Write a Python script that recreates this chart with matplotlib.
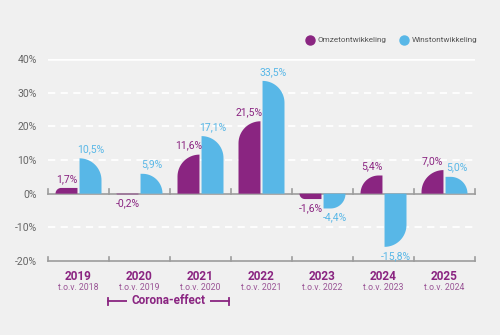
import matplotlib
matplotlib.use("Agg")
import matplotlib.pyplot as plt
from matplotlib.patches import Polygon
from matplotlib import font_manager
import matplotlib.transforms as mtrans
import numpy as np

names = {f.name for f in font_manager.fontManager.ttflist}
COND = "Liberation Sans Narrow" if "Liberation Sans Narrow" in names else "Roboto"
plt.rcParams['font.family'] = [COND, 'DejaVu Sans']

years = ["2019", "2020", "2021", "2022", "2023", "2024", "2025"]
compare = ["t.o.v. 2018", "t.o.v. 2019", "t.o.v. 2020", "t.o.v. 2021",
           "t.o.v. 2022", "t.o.v. 2023", "t.o.v. 2024"]
omzet = [1.7, -0.2, 11.6, 21.5, -1.6, 5.4, 7.0]
winst = [10.5, 5.9, 17.1, 33.5, -4.4, -15.8, 5.0]
yticks = [-20, -10, 0, 10, 20, 30, 40]
series_names = ["Omzetontwikkeling", "Winstontwikkeling"]

PURPLE = "#8A2581"
BLUE = "#58B7E7"
BG = "#F0F0F0"
GRAY = "#9C9C9C"

W, H = 500, 335
fig = plt.figure(figsize=(W / 100, H / 100), dpi=100, facecolor=BG)
L, R, T, B = 48, 475, 59, 261
ax = fig.add_axes([L / W, 1 - B / H, (R - L) / W, (B - T) / H])
ax.set_facecolor(BG)
ax.set_xlim(-0.5, 6.5)
ax.set_ylim(-20, 40)
for s in ax.spines.values():
    s.set_visible(False)
ax.set_xticks([])
ax.set_yticks(yticks)
ax.set_yticklabels([f"{v}%" for v in yticks], color="#666666", fontsize=7.5,
                   family="Roboto")
ax.tick_params(axis="y", length=0, pad=8)

# gridlines
for v in [10, 20, 30, -10]:
    ax.axhline(v, color="white", lw=1.3, ls=(0, (4, 3)), zorder=0)
ax.axhline(40, color="white", lw=1.8, zorder=0)
# axis lines at 0 and -20 with ticks
px_x = (R - L) / 7.0
px_y = (B - T) / 60.0
for base in [0, -20]:
    ax.plot([-0.5, 6.5], [base, base], color=GRAY, lw=1.2, zorder=1, clip_on=False)
    for b in np.arange(-0.5, 7.0, 1.0):
        ax.plot([b, b], [base, base + 4.5 / px_y], color=GRAY, lw=1.2, zorder=1,
                clip_on=False)

bw = 0.36
off = 0.197


def rounded_bar(xc, v, side, color):
    x0, x1 = xc - bw / 2, xc + bw / 2
    wpx = bw * px_x
    hpx = abs(v) * px_y
    r = min(wpx, hpx)
    rx, ry = r / px_x, r / px_y
    sg = 1 if v >= 0 else -1
    t = np.linspace(0, np.pi / 2, 20)
    if side == "right":
        cx, cy = x1 - rx, v - sg * ry
        arc = [(cx + rx * np.sin(a), cy + sg * ry * np.cos(a)) for a in t]
        pts = [(x0, 0), (x0, v)] + arc + [(x1, 0)]
    else:
        cx, cy = x0 + rx, v - sg * ry
        arc = [(cx - rx * np.cos(a), cy + sg * ry * np.sin(a)) for a in t]
        pts = [(x0, 0)] + arc + [(x1, v), (x1, 0)]
    ax.add_patch(Polygon(pts, closed=True, facecolor=color, edgecolor="none",
                         zorder=2))


def fmt(v):
    return f"{v:.1f}%".replace(".", ",")


bt = mtrans.blended_transform_factory(ax.transData, fig.transFigure)

for i in range(len(years)):
    for v, side, col, dx in [(omzet[i], "left", PURPLE, -off),
                             (winst[i], "right", BLUE, off)]:
        xc = i + dx
        rounded_bar(xc, v, side, col)
        if v >= 0:
            ax.annotate(fmt(v), (xc, v), xytext=(0, 3), textcoords="offset points",
                        ha="center", va="bottom", color=col, fontsize=7.5)
        else:
            ax.annotate(fmt(v), (xc, v), xytext=(0, -3), textcoords="offset points",
                        ha="center", va="top", color=col, fontsize=7.5)
    ax.text(i, 1 - 276 / H, years[i], transform=bt,
            ha="center", va="center", color=PURPLE, fontsize=8.5, fontweight="bold")
    ax.text(i, 1 - 287 / H, compare[i], transform=bt,
            ha="center", va="center", color="#9A5596", fontsize=6.3)

# Corona-effect bracket
yb = 1 - 301 / H
cap = 3.5 / H
ax.plot([0.48, 2.47], [yb, yb], color=PURPLE, lw=1.3, transform=bt, clip_on=False)
for xx in [0.48, 2.47]:
    ax.plot([xx, xx], [yb - cap, yb + cap], color=PURPLE, lw=1.3, transform=bt,
            clip_on=False)
ax.text(1.475, yb, "Corona-effect", transform=bt, ha="center", va="center",
        color=PURPLE, fontsize=8.5, fontweight="bold",
        bbox=dict(boxstyle="square,pad=0.35", fc=BG, ec="none"))

# legend
ly = 1 - 40 / H
for xp, col, name in [(310, PURPLE, series_names[0]), (404, BLUE, series_names[1])]:
    fig.add_artist(matplotlib.lines.Line2D([xp / W], [ly], marker="o", markersize=6.5,
                                           color=col, transform=fig.transFigure))
    fig.text((xp + 8) / W, ly, name, ha="left", va="center", color="#555555",
             fontsize=5.9, family="Roboto")

fig.savefig("out.png", dpi=100, facecolor=BG)
